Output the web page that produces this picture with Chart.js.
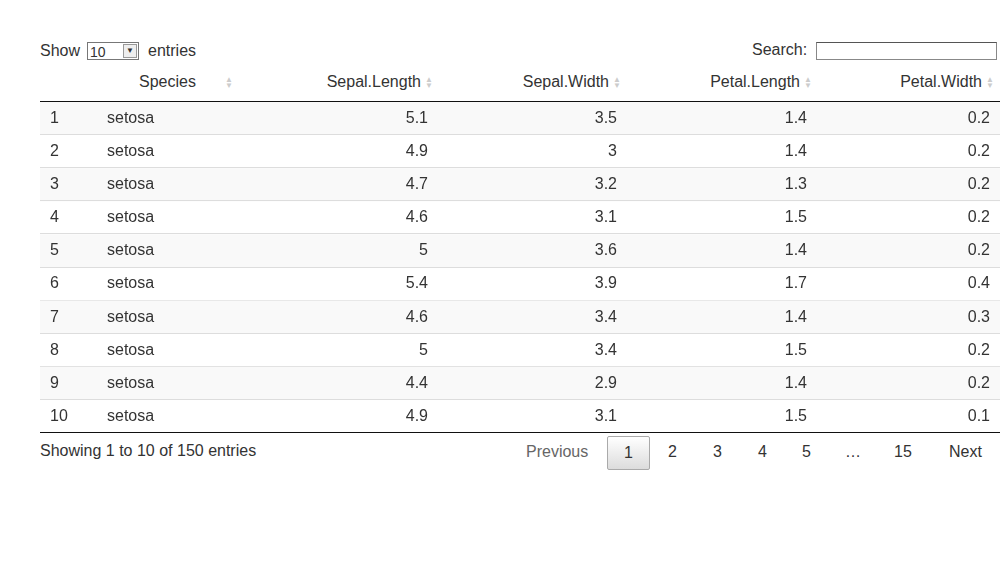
<!DOCTYPE html>
<html><head><meta charset="utf-8">
<script src="https://cdn.jsdelivr.net/npm/chart.js@4"></script>
<style>
body{margin:0;width:1000px;height:580px;background:#fff;font-family:"Liberation Sans",Arial,sans-serif;font-size:16px;color:#333;position:relative;overflow:hidden}
.a{position:absolute;white-space:nowrap}
.sel{border:1px solid #777;height:18px;width:52px;background:#fff;font-size:14px;line-height:18px;padding-left:2px;box-sizing:border-box}
.sel span{position:absolute;right:1px;top:1px;width:14px;height:14px;border:1px solid #999;box-sizing:border-box;background:#eee;font-size:8px;text-align:center;line-height:12px}
.th{font-size:16px;color:#333}
.ic{color:#ccc;font-size:8px;line-height:6px;position:absolute}
.pg{color:#333}
</style></head><body>
<div class="a" style="left:40px;top:42px">Show</div>
<div class="a sel" style="left:87px;top:42px">10<span>&#9660;</span></div>
<div class="a" style="left:148px;top:42px">entries</div>
<div class="a" style="left:752px;top:41px">Search:</div>
<div class="a" style="left:816px;top:42px;width:181px;height:18px;border:1px solid #888;box-sizing:border-box;border-top-color:#555"></div>
<div id="hdr"></div>
<div class="a" style="left:40px;top:101px;width:960px;height:1px;background:#111"></div>
<canvas id="c" width="960" height="331" style="position:absolute;left:40px;top:102px"></canvas>
<div class="a" style="left:40px;top:442px">Showing 1 to 10 of 150 entries</div>
<div id="pag"></div>
<script>
const columns=["","Species","Sepal.Length","Sepal.Width","Petal.Length","Petal.Width"];
const rowIds=[1,2,3,4,5,6,7,8,9,10];
const species=["setosa","setosa","setosa","setosa","setosa","setosa","setosa","setosa","setosa","setosa"];
const sepalLength=[5.1,4.9,4.7,4.6,5,5.4,4.6,5,4.4,4.9];
const sepalWidth=[3.5,3,3.2,3.1,3.6,3.9,3.4,3.4,2.9,3.1];
const petalLength=[1.4,1.4,1.3,1.5,1.4,1.7,1.4,1.5,1.4,1.5];
const petalWidth=[0.2,0.2,0.2,0.2,0.2,0.4,0.3,0.2,0.2,0.1];
const pages=["Previous","1","2","3","4","5","…","15","Next"];

const hdr=document.getElementById('hdr');
const hdrRight=[null,null,421,609,800,982];
columns.forEach((c,i)=>{
  if(!c)return;
  const d=document.createElement('div');d.className='a th';d.textContent=c;d.style.top='73px';
  if(i===1){d.style.left='139px';}else{d.style.right=(1000-hdrRight[i])+'px';}
  hdr.appendChild(d);
  const ic=document.createElement('div');ic.className='ic';ic.innerHTML='&#9650;<br>&#9660;';
  ic.style.top='77px';ic.style.left=(i===1?225:hdrRight[i]+4)+'px';hdr.appendChild(ic);
});
const pag=document.getElementById('pag');
const px=[526,619,668,713,758,802,845,894,949];
pages.forEach((p,i)=>{
  const d=document.createElement('div');d.className='a pg';d.textContent=p;d.style.left=px[i]+'px';d.style.top='443px';
  if(i===0)d.style.color='#666';
  if(i===1){d.style.left='607px';d.style.top='436px';d.style.width='43px';d.style.height='34px';d.style.boxSizing='border-box';
    d.style.border='1px solid #aaa';d.style.borderRadius='2px';d.style.background='linear-gradient(#fff,#dcdcdc)';d.style.textAlign='center';d.style.lineHeight='32px';}
  pag.appendChild(d);
});

const tablePlugin={id:'tbl',beforeDatasetsDraw(ch){
  const ctx=ch.ctx,x=ch.scales.x,y=ch.scales.y;
  const h=(y.getPixelForValue(1)-y.getPixelForValue(0));
  ctx.save();
  rowIds.forEach((r,i)=>{
    const cy=y.getPixelForValue(i);
    if(i%2===0){ctx.fillStyle='#f9f9f9';ctx.fillRect(x.left,cy-h/2,x.right-x.left,h);}
    ctx.fillStyle=i===rowIds.length-1?'#111':'#ddd';
    ctx.fillRect(x.left,Math.round(cy+h/2)-1,x.right-x.left,1);
    ctx.fillStyle='#333';ctx.font='16px "Liberation Sans", Arial, sans-serif';ctx.textBaseline='middle';
    ctx.textAlign='left';
    ctx.fillText(String(r),x.getPixelForValue(10),cy);
    ctx.fillText(species[i],x.getPixelForValue(67),cy);
    ctx.textAlign='right';
    ctx.fillText(String(sepalLength[i]),x.getPixelForValue(388),cy);
    ctx.fillText(String(sepalWidth[i]),x.getPixelForValue(577),cy);
    ctx.fillText(String(petalLength[i]),x.getPixelForValue(767),cy);
    ctx.fillText(String(petalWidth[i]),x.getPixelForValue(950),cy);
  });
  ctx.restore();
}};
new Chart(document.getElementById('c'),{
  type:'bar',
  data:{labels:rowIds.map(String),datasets:[{data:rowIds.map(()=>0),backgroundColor:'rgba(0,0,0,0)'}]},
  options:{indexAxis:'y',responsive:false,animation:false,events:[],
    layout:{padding:0},
    plugins:{legend:{display:false},tooltip:{enabled:false}},
    scales:{x:{type:'linear',min:0,max:960,display:false},y:{type:'category',display:false,offset:true}}},
  plugins:[tablePlugin]
});
</script>
</body></html>
